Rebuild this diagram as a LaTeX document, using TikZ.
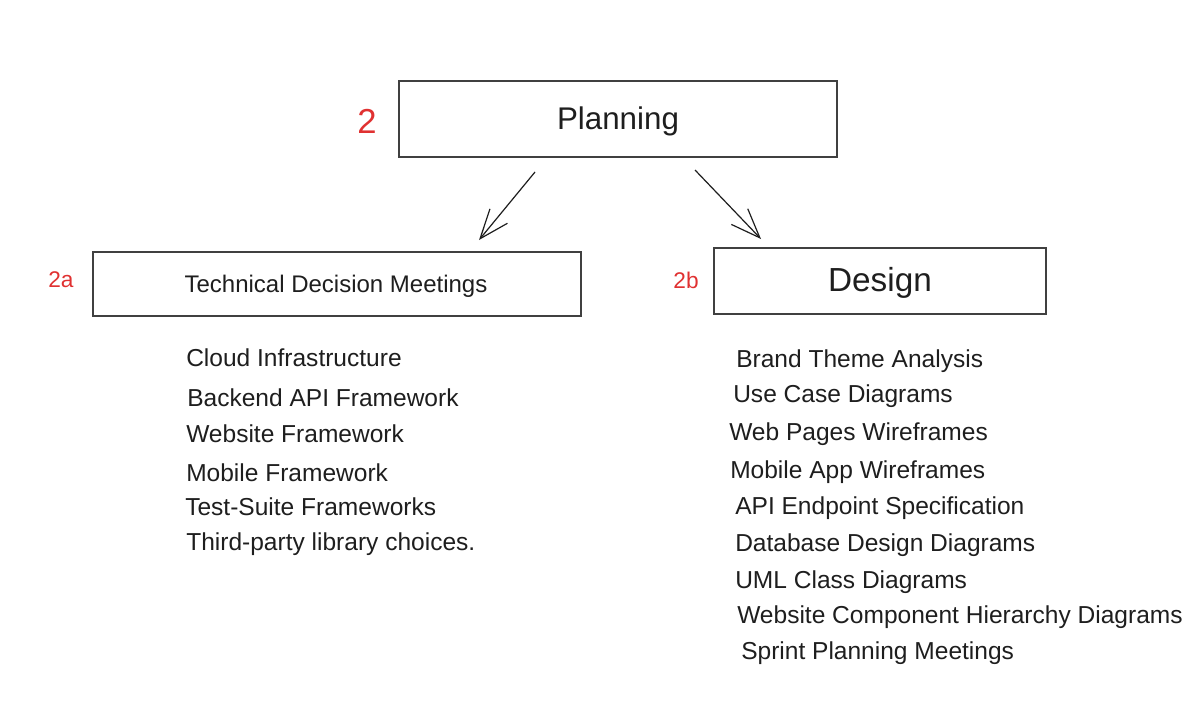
\documentclass[tikz,border=0pt]{standalone}
\usepackage{fontspec}
\setmainfont{Liberation Sans}
\usetikzlibrary{arrows.meta}
\definecolor{ink}{HTML}{1E1E1E}
\definecolor{exred}{HTML}{E03131}
\tikzset{
  box/.style={draw=ink!85, line width=1pt, inner sep=0pt, text=ink},
  title/.style={text=ink},
  item/.style={anchor=west, inner sep=0pt, text=ink, font=\fontsize{18.4pt}{20pt}\selectfont},
  num/.style={text=exred, inner sep=0pt},
  arr/.style={draw=ink, line width=0.9pt, -{Straight Barb[length=22pt,width=17pt,line width=0.9pt]}}
}
\begin{document}
\begin{tikzpicture}[x=0.75pt,y=-0.75pt]
\useasboundingbox (0,0) rectangle (1202,721);
% boxes
\node[box, minimum width=438*0.75pt, minimum height=76*0.75pt] (plan) at (618,119) {};
\node[title, font=\fontsize{23.5pt}{25pt}\selectfont] (plant) at (618,121) {Planning};
\node[box, minimum width=488*0.75pt, minimum height=64*0.75pt] (tech) at (337,284) {};
\node[title, font=\fontsize{18pt}{20pt}\selectfont] (techt) at (336,286) {Technical Decision Meetings};
\node[box, minimum width=332*0.75pt, minimum height=66*0.75pt] (des) at (880,281) {};
\node[title, font=\fontsize{25pt}{27pt}\selectfont] (dest) at (880,283) {Design};
% numbers
\node[num, font=\fontsize{26pt}{28pt}\selectfont] (n2) at (367,121) {2};
\node[num, font=\fontsize{17pt}{19pt}\selectfont] (n2a) at (61,280) {2a};
\node[num, font=\fontsize{17pt}{19pt}\selectfont] (n2b) at (686,280) {2b};
% arrow anchors
\coordinate (a1s) at (535,172);
\coordinate (a1e) at (479,240);
\coordinate (a2s) at (695,170);
\coordinate (a2e) at (761,239);
\draw[arr] (a1s) -- (a1e);
\draw[arr] (a2s) -- (a2e);
% left list
\node[item] (l1) at (186,358) {Cloud Infrastructure};
\node[item] (l2) at (187,398) {Backend API Framework};
\node[item] (l3) at (186,434) {Website Framework};
\node[item] (l4) at (186,473) {Mobile Framework};
\node[item] (l5) at (185,507) {Test-Suite Frameworks};
\node[item] (l6) at (186,544) {Third-party library choices.};
% right list
\node[item] (r1) at (736,361) {Brand Theme Analysis};
\node[item] (r2) at (733,396) {Use Case Diagrams};
\node[item] (r3) at (729,434) {Web Pages Wireframes};
\node[item] (r4) at (730,472) {Mobile App Wireframes};
\node[item] (r5) at (735,508) {API Endpoint Specification};
\node[item] (r6) at (735,545) {Database Design Diagrams};
\node[item] (r7) at (735,582) {UML Class Diagrams};
\node[item] (r8) at (737,617) {Website Component Hierarchy Diagrams};
\node[item] (r9) at (741,653) {Sprint Planning Meetings};
\end{tikzpicture}
\end{document}
